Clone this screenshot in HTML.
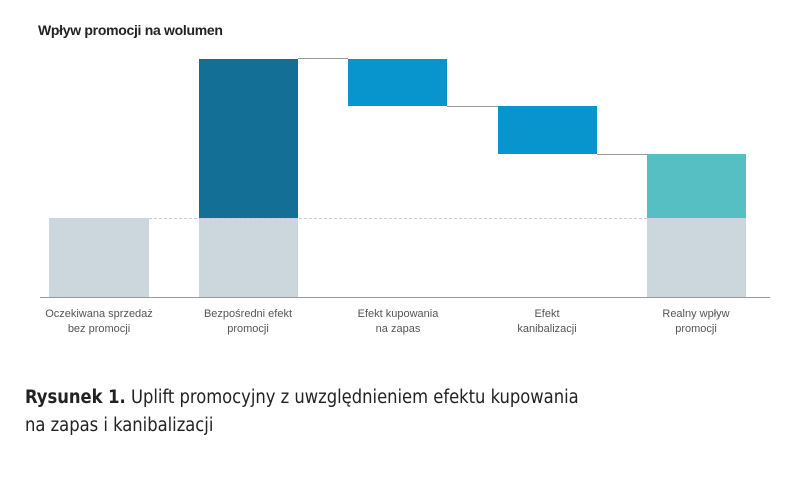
<!DOCTYPE html>
<html><head><meta charset="utf-8"><style>
body{margin:0;width:787px;height:478px;background:#fff;position:relative;overflow:hidden;font-family:"Liberation Sans",sans-serif}
.a{position:absolute}
.l{position:absolute;top:307px;width:160px;text-align:center;font-size:11px;line-height:15px;color:#555}
.c{position:absolute;left:25px;font-size:18.2px;color:#222;font-family:"DejaVu Sans Condensed","Liberation Sans",sans-serif}
</style></head><body>
<div class="a" style="left:38px;top:22px;font-size:14px;font-weight:bold;color:#222;letter-spacing:-0.3px">Wpływ promocji na wolumen</div>
<div class="a" style="left:49px;top:218px;width:100px;height:79px;background:#ccd6dd"></div>
<div class="a" style="left:199px;top:218px;width:99px;height:79px;background:#ccd6dd"></div>
<div class="a" style="left:199px;top:59px;width:99px;height:159px;background:#136f96"></div>
<div class="a" style="left:348px;top:59px;width:99px;height:47px;background:#0895cd"></div>
<div class="a" style="left:498px;top:106px;width:99px;height:48px;background:#0895cd"></div>
<div class="a" style="left:647px;top:154px;width:99px;height:64px;background:#55bfc3"></div>
<div class="a" style="left:647px;top:218px;width:99px;height:79px;background:#ccd6dd"></div>
<div class="a" style="left:298px;top:58px;width:50px;height:1px;background:#999"></div>
<div class="a" style="left:447px;top:106px;width:51px;height:1px;background:#999"></div>
<div class="a" style="left:597px;top:154px;width:50px;height:1px;background:#999"></div>
<div class="a" style="left:149px;top:218px;width:498px;border-top:1px dashed #c5ccd2"></div>
<div class="a" style="left:40px;top:297px;width:730px;height:1px;background:#999"></div>
<div class="l" style="left:19px">Oczekiwana sprzedaż<br>bez promocji</div>
<div class="l" style="left:168px">Bezpośredni efekt<br>promocji</div>
<div class="l" style="left:318px">Efekt kupowania<br>na zapas</div>
<div class="l" style="left:467px">Efekt<br>kanibalizacji</div>
<div class="l" style="left:616px">Realny wpływ<br>promocji</div>
<div class="c" style="top:387px"><b>Rysunek 1.</b> Uplift promocyjny z uwzględnieniem efektu kupowania</div>
<div class="c" style="top:415px">na zapas i kanibalizacji</div>
</body></html>
